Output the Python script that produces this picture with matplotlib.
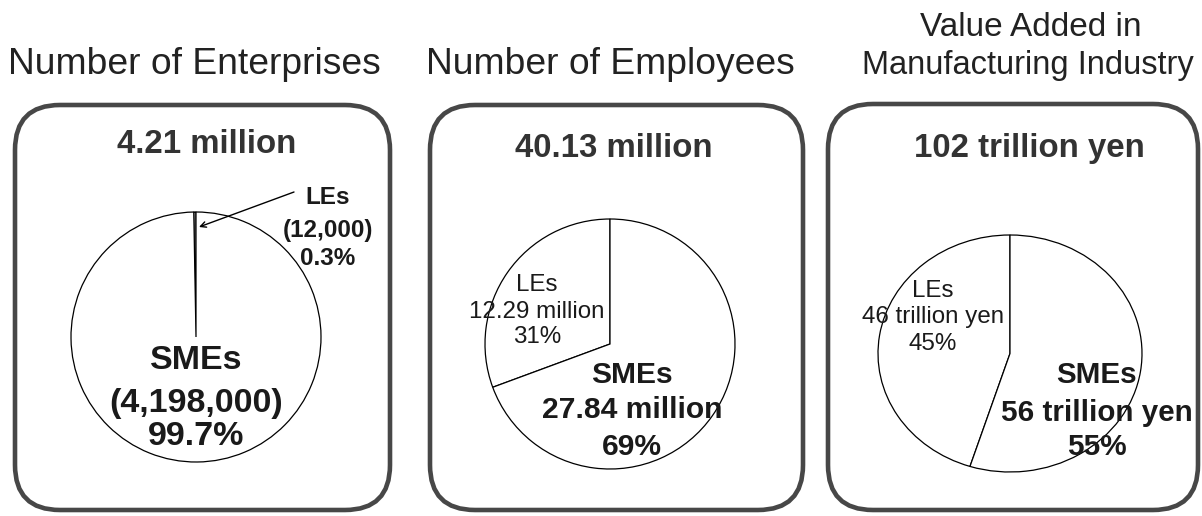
import matplotlib
matplotlib.use("Agg")
import matplotlib.pyplot as plt
from matplotlib.patches import FancyBboxPatch

plt.rcParams['font.family'] = ['Liberation Sans', 'DejaVu Sans']

# panel headings and totals
titles = ["Number of Enterprises", "Number of Employees",
          "Value Added in\nManufacturing Industry"]
totals = ["4.21 million", "40.13 million", "102 trillion yen"]

# large enterprises vs SMEs
le_values = [12000, 12.29, 46]
sme_values = [4198000, 27.84, 56]

le_labels = [["LEs", "(12,000)", "0.3%"],
             ["LEs", "12.29 million", "31%"],
             ["LEs", "46 trillion yen", "45%"]]
sme_labels = [["SMEs", "(4,198,000)", "99.7%"],
              ["SMEs", "27.84 million", "69%"],
              ["SMEs", "56 trillion yen", "55%"]]

W, H = 1202, 516
fig = plt.figure(figsize=(W / 100, H / 100), dpi=100)
fig.patch.set_facecolor('white')

# pie axes, in pixels: x0, y0(top), width, height
pie_boxes = [(71, 212, 250, 250), (485, 219, 250, 250), (878, 235, 264, 237)]
for i, (x0, y0, w, h) in enumerate(pie_boxes):
    pax = fig.add_axes([x0 / W, (H - y0 - h) / H, w / W, h / H])
    pax.pie([le_values[i], sme_values[i]], startangle=90, counterclock=True,
            colors=['white', 'white'],
            wedgeprops=dict(edgecolor='black', linewidth=0.9, clip_on=False))
    pax.set_aspect('auto')
    pax.set_xlim(-1, 1)
    pax.set_ylim(-1, 1)
    pax.axis('off')

# overlay in pixel coordinates for frames and text
ax = fig.add_axes([0, 0, 1, 1])
ax.set_xlim(0, W)
ax.set_ylim(H, 0)
ax.axis('off')

frames = [(15, 105, 375, 405), (430, 105, 373, 405), (828, 104, 370, 406)]
for x0, y0, w, h in frames:
    ax.add_patch(FancyBboxPatch((x0, y0), w, h,
                                boxstyle="round,pad=0,rounding_size=45",
                                facecolor='none', edgecolor='#474747',
                                linewidth=3.3))

# headings above each frame
ax.text(194, 74, titles[0], ha='center', va='baseline', fontsize=26.8, color='#222222')
ax.text(610, 74, titles[1], ha='center', va='baseline', fontsize=26.8, color='#222222')
t3 = titles[2].split("\n")
ax.text(1031, 36, t3[0], ha='center', va='baseline', fontsize=24, color='#222222')
ax.text(1028, 74, t3[1], ha='center', va='baseline', fontsize=23.5, color='#222222')

# totals at the top of each frame
total_pos = [(207, 153), (614, 157), (1029, 157)]
for (x, y), t in zip(total_pos, totals):
    ax.text(x, y, t, ha='center', va='baseline', fontsize=23.8,
            fontweight='bold', color='#333333')

# SME labels
sme_x = [196, 632, 1097]
sme_y = [[369, 412, 445], [383, 418, 455], [383, 421, 455]]
sme_fs = [24.5, 21.6, 21.3]
for i in range(3):
    for line, y in zip(sme_labels[i], sme_y[i]):
        ax.text(sme_x[i], y, line, ha='center', va='baseline',
                fontsize=sme_fs[i], fontweight='bold', color='#1a1a1a')

# LE labels
le_x = [328, 537, 933]
le_y = [[204, 237, 265], [291, 318, 343], [297, 323, 350]]
for i in range(3):
    bold = i == 0
    for line, y in zip(le_labels[i], le_y[i]):
        ax.text(le_x[i], y, line, ha='center', va='baseline',
                fontsize=17.5 if bold else 17.4,
                fontweight='bold' if bold else 'normal', color='#1a1a1a')

# pointer to the thin LE slice
ax.annotate("", xy=(199, 227), xytext=(294, 192),
            arrowprops=dict(arrowstyle='->', color='black', lw=1.0,
                            shrinkA=0, shrinkB=0))

fig.savefig("out.png", dpi=100)
